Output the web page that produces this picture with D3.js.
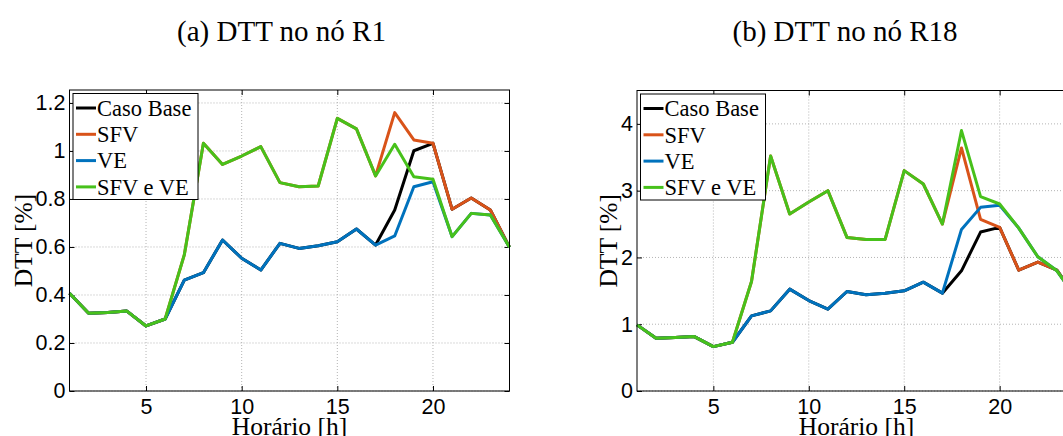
<!DOCTYPE html>
<html>
<head>
<meta charset="utf-8">
<script src="https://cdn.jsdelivr.net/npm/d3@7"></script>
<style>
  body { margin: 0; background: #fff; }
  svg { display: block; font-family: "Liberation Serif", "Times New Roman", serif; }
</style>
</head>
<body>
<svg id="chart" width="1063" height="436"></svg>
<script>
// hours of the day
const hours = [1, 2, 3, 4, 5, 6, 7, 8, 9, 10, 11, 12, 13, 14, 15, 16, 17, 18, 19, 20, 21, 22, 23, 24];
const seriesNames = ["Caso Base", "SFV", "VE", "SFV e VE"];
const seriesColors = ["#000000", "#D95319", "#0072BD", "#47C11B"];
const xTicks = [5, 10, 15, 20];
const yTicksA = [0, 0.2, 0.4, 0.6, 0.8, 1, 1.2];
const yTicksB = [0, 1, 2, 3, 4];

// (a) node R1
const baseA  = [0.407, 0.324, 0.327, 0.333, 0.271, 0.300, 0.462, 0.493, 0.629, 0.553, 0.504, 0.615, 0.594, 0.605, 0.622, 0.675, 0.608, 0.754, 1.001, 1.032, 0.757, 0.804, 0.754, 0.599];
const sfvA   = [0.407, 0.324, 0.327, 0.333, 0.271, 0.300, 0.567, 1.032, 0.944, 0.979, 1.018, 0.868, 0.851, 0.854, 1.136, 1.092, 0.896, 1.160, 1.046, 1.032, 0.757, 0.804, 0.754, 0.599];
const veA    = [0.407, 0.324, 0.327, 0.333, 0.271, 0.300, 0.462, 0.493, 0.629, 0.553, 0.504, 0.615, 0.594, 0.605, 0.622, 0.675, 0.608, 0.646, 0.851, 0.872, 0.643, 0.740, 0.733, 0.599];
const sfvVeA = [0.407, 0.324, 0.327, 0.333, 0.271, 0.300, 0.567, 1.032, 0.944, 0.979, 1.018, 0.868, 0.851, 0.854, 1.136, 1.092, 0.896, 1.028, 0.893, 0.882, 0.643, 0.740, 0.733, 0.599];

// (b) node R18
const baseB  = [0.99, 0.79, 0.80, 0.815, 0.665, 0.73, 1.125, 1.20, 1.525, 1.355, 1.225, 1.49, 1.44, 1.465, 1.50, 1.63, 1.465, 1.80, 2.38, 2.45, 1.81, 1.93, 1.81, 1.40];
const sfvB   = [0.99, 0.79, 0.80, 0.815, 0.665, 0.73, 1.64, 3.52, 2.65, 2.83, 3.00, 2.30, 2.27, 2.27, 3.30, 3.10, 2.50, 3.64, 2.57, 2.45, 1.81, 1.93, 1.81, 1.40];
const veB    = [0.99, 0.79, 0.80, 0.815, 0.665, 0.73, 1.125, 1.20, 1.525, 1.355, 1.225, 1.49, 1.44, 1.465, 1.50, 1.63, 1.465, 2.42, 2.75, 2.78, 2.44, 2.01, 1.80, 1.40];
const sfvVeB = [0.99, 0.79, 0.80, 0.815, 0.665, 0.73, 1.64, 3.52, 2.65, 2.83, 3.00, 2.30, 2.27, 2.27, 3.30, 3.10, 2.50, 3.90, 2.91, 2.80, 2.44, 2.01, 1.80, 1.40];

const svg = d3.select("#chart");

function drawPanel(cfg) {
    let x = d3.scaleLinear().domain([1, 24]).range([cfg.left, cfg.right]);
    let y = d3.scaleLinear().domain([0, cfg.yMax]).range([cfg.bottom, cfg.top]);
    let fmt = d => String(+d.toFixed(1));

    let g = svg.append("g");

    // dotted grid
    g.append("g").selectAll("line").data(xTicks).enter().append("line")
        .attr("x1", d => x(d)).attr("x2", d => x(d))
        .attr("y1", cfg.top).attr("y2", cfg.bottom)
        .attr("stroke", "#b4b4b4").attr("stroke-dasharray", "1,2");
    g.append("g").selectAll("line").data(cfg.yTicks).enter().append("line")
        .attr("x1", cfg.left).attr("x2", cfg.right)
        .attr("y1", d => y(d)).attr("y2", d => y(d))
        .attr("stroke", "#b4b4b4").attr("stroke-dasharray", "1,2");

    // axes with inward ticks on all sides
    let axB = g.append("g").attr("transform", "translate(0," + cfg.bottom + ")")
        .call(d3.axisBottom(x).tickValues(xTicks).tickSize(-5).tickPadding(8).tickFormat(fmt));
    let axL = g.append("g").attr("transform", "translate(" + cfg.left + ",0)")
        .call(d3.axisLeft(y).tickValues(cfg.yTicks).tickSize(-5).tickPadding(4).tickFormat(fmt));
    let axT = g.append("g").attr("transform", "translate(0," + cfg.top + ")")
        .call(d3.axisTop(x).tickValues(xTicks).tickSize(-5).tickFormat(""));
    let axR = g.append("g").attr("transform", "translate(" + cfg.right + ",0)")
        .call(d3.axisRight(y).tickValues(cfg.yTicks).tickSize(-5).tickFormat(""));
    [axB, axL, axT, axR].forEach(a => {
        a.select(".domain").remove();
        a.selectAll("line").attr("stroke", "#000");
        a.selectAll("text").attr("font-family", null).attr("font-size", 21.5).attr("fill", "#000");
    });

    // lines
    let line = d3.line().x((d, i) => x(hours[i])).y(d => y(d));
    cfg.series.forEach((s, k) => {
        g.append("path").datum(s)
            .attr("d", line)
            .attr("fill", "none")
            .attr("stroke", seriesColors[k])
            .attr("stroke-width", 3)
            .attr("stroke-linejoin", "round");
    });

    // box
    g.append("rect")
        .attr("x", cfg.left).attr("y", cfg.top)
        .attr("width", cfg.right - cfg.left).attr("height", cfg.bottom - cfg.top)
        .attr("fill", "none").attr("stroke", "#000");

    // legend
    let lg = g.append("g").attr("transform", "translate(" + (cfg.left + 3.5) + "," + (cfg.top + 3.5) + ")");
    lg.append("rect").attr("width", 125).attr("height", 106)
        .attr("fill", "#fff").attr("stroke", "#000");
    seriesNames.forEach((name, k) => {
        let yy = 14.5 + k * 26.3;
        lg.append("line").attr("x1", 3).attr("x2", 23).attr("y1", yy).attr("y2", yy)
            .attr("stroke", seriesColors[k]).attr("stroke-width", 3);
        lg.append("text").attr("x", 24).attr("y", yy).attr("dy", "0.35em")
            .attr("font-size", 22.5).text(name);
    });

    // titles and labels
    svg.append("text").attr("x", cfg.titleX).attr("y", 41)
        .attr("text-anchor", "middle").attr("font-size", 29).text(cfg.title);
    svg.append("text").attr("x", (cfg.left + cfg.right) / 2).attr("y", 435)
        .attr("text-anchor", "middle").attr("font-size", 25.5).text("Horário [h]");
    svg.append("text")
        .attr("transform", "translate(" + cfg.yLabelX + "," + ((cfg.top + cfg.bottom) / 2) + ") rotate(-90)")
        .attr("text-anchor", "middle").attr("font-size", 25.5).text("DTT [%]");
}

drawPanel({
    left: 69.5, right: 509.5, top: 90, bottom: 391, yMax: 1.254,
    yTicks: yTicksA, series: [baseA, sfvA, veA, sfvVeA],
    title: "(a) DTT no nó R1", titleX: 281.5, yLabelX: 32
});
drawPanel({
    left: 637, right: 1076, top: 90.5, bottom: 391, yMax: 4.5,
    yTicks: yTicksB, series: [baseB, sfvB, veB, sfvVeB],
    title: "(b) DTT no nó R18", titleX: 845, yLabelX: 617
});
</script>
</body>
</html>
